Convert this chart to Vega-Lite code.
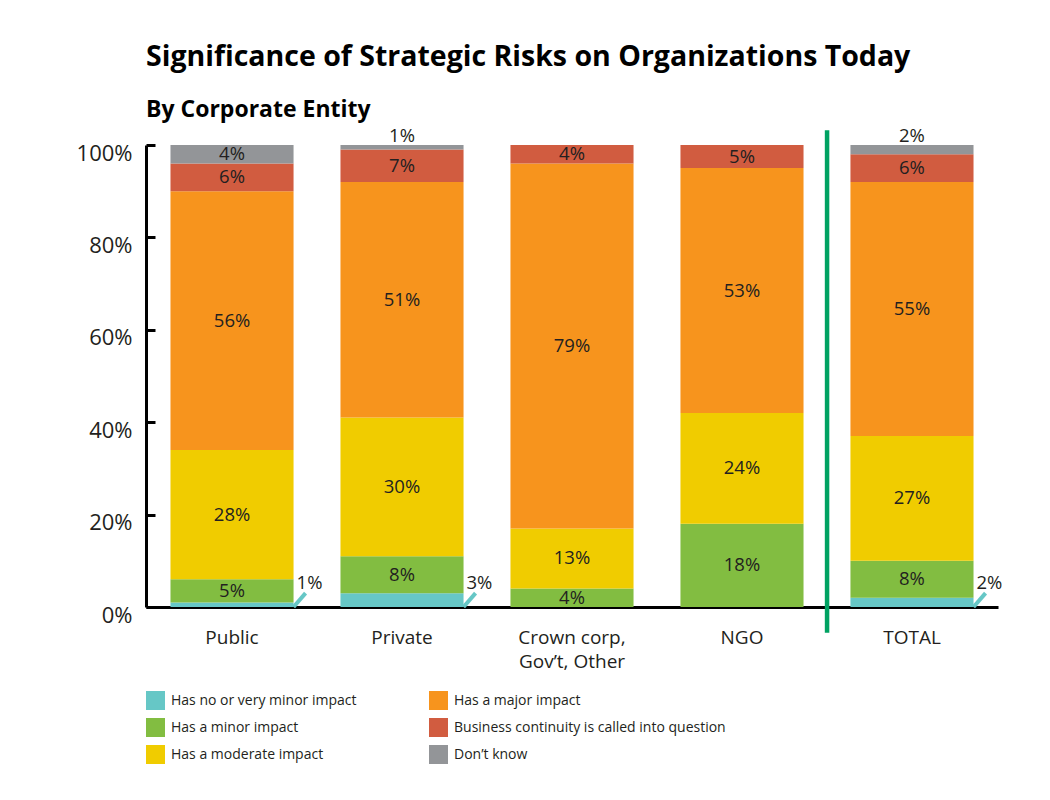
{
  "$schema": "https://vega.github.io/schema/vega-lite/v6.json",
  "width": 852,
  "height": 462,
  "autosize": {"type": "none"},
  "padding": {"left": 146, "top": 145, "right": 52, "bottom": 193},
  "background": "white",
  "title": {
    "text": "Significance of Strategic Risks on Organizations Today",
    "subtitle": "By Corporate Entity",
    "anchor": "start",
    "frame": "group",
    "font": "Open Sans",
    "fontSize": 28.5,
    "fontWeight": "bold",
    "color": "#000000",
    "subtitleFont": "Open Sans",
    "subtitleFontSize": 23,
    "subtitleFontWeight": "bold",
    "subtitleColor": "#000000",
    "subtitlePadding": 28,
    "offset": 5
  },
  "config": {
    "view": {"stroke": null},
    "font": "Open Sans",
    "text": {"font": "Open Sans"}
  },
  "data": {
    "values": [
      {"entity": "Public", "category": "Has no or very minor impact", "value": 1},
      {"entity": "Public", "category": "Has a minor impact", "value": 5},
      {"entity": "Public", "category": "Has a moderate impact", "value": 28},
      {"entity": "Public", "category": "Has a major impact", "value": 56},
      {"entity": "Public", "category": "Business continuity is called into question", "value": 6},
      {"entity": "Public", "category": "Don’t know", "value": 4},
      {"entity": "Private", "category": "Has no or very minor impact", "value": 3},
      {"entity": "Private", "category": "Has a minor impact", "value": 8},
      {"entity": "Private", "category": "Has a moderate impact", "value": 30},
      {"entity": "Private", "category": "Has a major impact", "value": 51},
      {"entity": "Private", "category": "Business continuity is called into question", "value": 7},
      {"entity": "Private", "category": "Don’t know", "value": 1},
      {"entity": "Crown corp, Gov’t, Other", "category": "Has no or very minor impact", "value": 0},
      {"entity": "Crown corp, Gov’t, Other", "category": "Has a minor impact", "value": 4},
      {"entity": "Crown corp, Gov’t, Other", "category": "Has a moderate impact", "value": 13},
      {"entity": "Crown corp, Gov’t, Other", "category": "Has a major impact", "value": 79},
      {"entity": "Crown corp, Gov’t, Other", "category": "Business continuity is called into question", "value": 4},
      {"entity": "Crown corp, Gov’t, Other", "category": "Don’t know", "value": 0},
      {"entity": "NGO", "category": "Has no or very minor impact", "value": 0},
      {"entity": "NGO", "category": "Has a minor impact", "value": 18},
      {"entity": "NGO", "category": "Has a moderate impact", "value": 24},
      {"entity": "NGO", "category": "Has a major impact", "value": 53},
      {"entity": "NGO", "category": "Business continuity is called into question", "value": 5},
      {"entity": "NGO", "category": "Don’t know", "value": 0},
      {"entity": "TOTAL", "category": "Has no or very minor impact", "value": 2},
      {"entity": "TOTAL", "category": "Has a minor impact", "value": 8},
      {"entity": "TOTAL", "category": "Has a moderate impact", "value": 27},
      {"entity": "TOTAL", "category": "Has a major impact", "value": 55},
      {"entity": "TOTAL", "category": "Business continuity is called into question", "value": 6},
      {"entity": "TOTAL", "category": "Don’t know", "value": 2}
    ]
  },
  "transform": [
    {"calculate": "indexof(['Has no or very minor impact','Has a minor impact','Has a moderate impact','Has a major impact','Business continuity is called into question','Don’t know'], datum.category)", "as": "ord"},
    {"stack": "value", "groupby": ["entity"], "sort": [{"field": "ord", "order": "ascending"}], "as": ["y0", "y1"]},
    {"calculate": "(datum.y0 + datum.y1) / 2", "as": "mid"},
    {"calculate": "datum.value + '%'", "as": "lab"}
  ],
  "encoding": {
    "x": {
      "field": "entity",
      "type": "nominal",
      "sort": ["Public", "Private", "Crown corp, Gov’t, Other", "NGO", "TOTAL"],
      "scale": {"paddingInner": 0.276, "paddingOuter": 0.144},
      "axis": {
        "title": null,
        "ticks": false,
        "domainColor": "#000000",
        "domainWidth": 3,
        "labelAngle": 0,
        "labelFont": "Open Sans",
        "labelFontSize": 19,
        "labelColor": "#231f20",
        "labelPadding": 21,
        "labelLineHeight": 24,
        "labelExpr": "datum.label == 'Crown corp, Gov’t, Other' ? ['Crown corp,', 'Gov’t, Other'] : datum.label"
      }
    }
  },
  "layer": [
    {
      "mark": {"type": "bar"},
      "encoding": {
        "y": {
          "field": "y0",
          "type": "quantitative",
          "scale": {"domain": [0, 100], "nice": false},
          "axis": {
            "title": null,
            "values": [0, 20, 40, 60, 80, 100],
            "labelExpr": "datum.value + '%'",
            "grid": false,
            "domainColor": "#000000",
            "domainWidth": 3,
            "tickColor": "#000000",
            "tickWidth": 3,
            "tickSize": -9,
            "labelFont": "Open Sans",
            "labelFontSize": 22,
            "labelColor": "#231f20",
            "labelPadding": 23,
            "labelOffset": 8
          }
        },
        "y2": {"field": "y1"},
        "color": {
          "field": "category",
          "type": "nominal",
          "scale": {
            "domain": ["Has no or very minor impact", "Has a minor impact", "Has a moderate impact", "Has a major impact", "Business continuity is called into question", "Don’t know"],
            "range": ["#66c7c6", "#82bd41", "#f0cc00", "#f7941d", "#d15c40", "#939598"]
          },
          "legend": {
            "title": null,
            "orient": "none",
            "legendX": 0,
            "legendY": 546,
            "columns": 2,
            "symbolType": "square",
            "symbolSize": 361,
            "symbolStrokeWidth": 0,
            "symbolOpacity": 1,
            "labelFont": "Open Sans",
            "labelFontSize": 14,
            "labelColor": "#231f20",
            "labelLimit": 400,
            "labelOffset": 6,
            "rowPadding": 8,
            "columnPadding": 72
          }
        }
      }
    },
    {
      "transform": [
        {"filter": "datum.value > 0 && datum.category != 'Has no or very minor impact' && !(datum.category == 'Don’t know' && datum.value < 3)"}
      ],
      "mark": {"type": "text", "fontSize": 18.5, "color": "#231f20", "baseline": "middle"},
      "encoding": {
        "y": {"field": "mid", "type": "quantitative"},
        "text": {"field": "lab"}
      }
    },
    {
      "transform": [
        {"filter": "datum.category == 'Don’t know' && datum.value > 0 && datum.value < 3"}
      ],
      "mark": {"type": "text", "fontSize": 18.5, "color": "#231f20", "baseline": "middle", "dy": -9},
      "encoding": {
        "y": {"field": "y1", "type": "quantitative"},
        "text": {"field": "lab"}
      }
    },
    {
      "transform": [
        {"filter": "datum.category == 'Has no or very minor impact' && datum.value > 0"}
      ],
      "mark": {"type": "rule", "color": "#66c7c6", "strokeWidth": 4, "x2Offset": 12},
      "encoding": {
        "x": {"field": "entity", "type": "nominal", "bandPosition": 1},
        "x2": {"field": "entity", "bandPosition": 1},
        "y": {"datum": 0},
        "y2": {"datum": 3}
      }
    },
    {
      "transform": [
        {"filter": "datum.category == 'Has no or very minor impact' && datum.value > 0"}
      ],
      "mark": {"type": "text", "fontSize": 18.5, "color": "#231f20", "baseline": "middle", "align": "left", "dx": 3},
      "encoding": {
        "x": {"field": "entity", "type": "nominal", "bandPosition": 1},
        "y": {"datum": 5.2},
        "text": {"field": "lab"}
      }
    },
    {
      "data": {"values": [{"entity": "TOTAL"}]},
      "transform": [],
      "mark": {"type": "rule", "color": "#00a262", "strokeWidth": 4.5},
      "encoding": {
        "x": {"field": "entity", "type": "nominal", "bandPosition": -0.19},
        "y": {"datum": 103.2},
        "y2": {"datum": -5.6}
      }
    }
  ]
}
